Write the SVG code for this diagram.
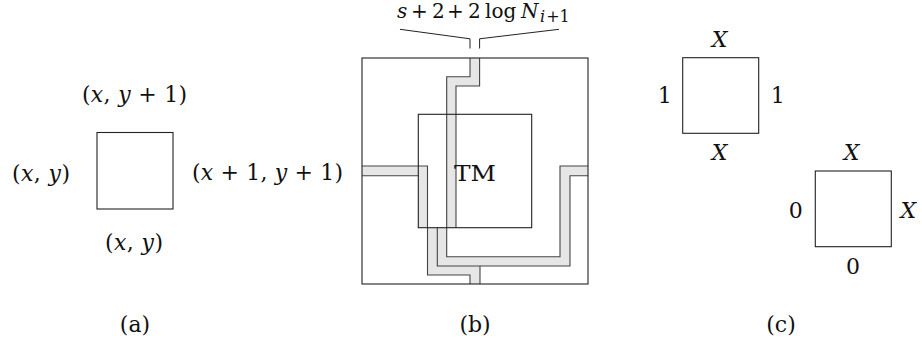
<svg xmlns="http://www.w3.org/2000/svg" width="922" height="341" viewBox="0 0 922 341">
<style>
  text { font-family: "DejaVu Serif", "Liberation Serif", serif; fill: #111; }
  .lbl { font-size: 22px; }
  .it { font-style: italic; }
  .box { fill: none; stroke: #222; stroke-width: 1.1; }
  .wire { fill: #e6e6e6; stroke: none; }
  .edge { fill: none; stroke: #444; stroke-width: 1.1; }
  .br { fill: none; stroke: #222; stroke-width: 1; }
</style>
<rect width="922" height="341" fill="#fff"/>

<!-- (a) -->
<g id="node-a">
  <rect class="box" x="97" y="132.5" width="76" height="76.5"/>
  <text class="lbl" x="82" y="102" textLength="105" lengthAdjust="spacing">(<tspan class="it">x</tspan>, <tspan class="it">y</tspan> + 1)</text>
  <text class="lbl" x="12" y="180.5" textLength="58" lengthAdjust="spacing">(<tspan class="it">x</tspan>, <tspan class="it">y</tspan>)</text>
  <text class="lbl" x="192" y="180" textLength="151" lengthAdjust="spacing">(<tspan class="it">x</tspan> + 1, <tspan class="it">y</tspan> + 1)</text>
  <text class="lbl" x="105" y="250" textLength="58" lengthAdjust="spacing">(<tspan class="it">x</tspan>, <tspan class="it">y</tspan>)</text>
</g>

<!-- (b) connectors / wires -->
<g id="connectors">
  <polygon class="wire" points="470,58 479.6,58 479.6,86 456,86 456,227.7 446.7,227.7 446.7,76.7 470,76.7"/>
  <polygon class="wire" points="588,166 560,166 560,256.7 446.7,256.7 446.7,227.7 437.3,227.7 437.3,266 570,266 570,175.7 588,175.7"/>
  <polygon class="wire" points="470,284 480,284 480,266 437.3,266 437.3,227.7 427.5,227.7 427.5,275 470,275"/>
  <polygon class="wire" points="362,166 427.5,166 427.5,227.7 418.3,227.7 418.3,175.7 362,175.7"/>
  <polyline class="edge" points="470,58 470,76.7 446.7,76.7 446.7,227.7"/>
  <polyline class="edge" points="479.6,58 479.6,86 456,86 456,227.7"/>
  <polyline class="edge" points="588,166 560,166 560,256.7 446.7,256.7 446.7,227.7"/>
  <polyline class="edge" points="588,175.7 570,175.7 570,266 437.3,266 437.3,227.7"/>
  <polyline class="edge" points="427.5,227.7 427.5,275 470,275 470,284"/>
  <polyline class="edge" points="480,266 480,284"/>
  <polyline class="edge" points="362,166 427.5,166 427.5,227.7"/>
  <polyline class="edge" points="362,175.7 418.3,175.7"/>
  <polyline class="br" points="400,29.3 470,38.8 470,48.5"/>
  <polyline class="br" points="479.6,48.5 479.6,38.8 559,29.3"/>
</g>

<g id="node-b-outer">
  <rect class="box" x="362" y="58" width="226" height="226"/>
</g>
<g id="node-tm">
  <rect class="box" x="418.3" y="114.3" width="113.4" height="113.4"/>
  <text class="lbl" x="475" y="180.7" text-anchor="middle" textLength="42" lengthAdjust="spacingAndGlyphs">TM</text>
</g>
<g id="label-b-top">
  <text font-size="20" y="18"><tspan class="it" x="397">s</tspan><tspan x="411">+</tspan><tspan x="432">2</tspan><tspan x="447">+</tspan><tspan x="468">2</tspan><tspan x="485">log</tspan><tspan class="it" x="521">N</tspan><tspan class="it" x="540" dy="4" font-size="16">i</tspan><tspan font-size="16" dx="1">+1</tspan></text>
</g>

<!-- (c) -->
<g id="node-c1">
  <rect class="box" x="682.7" y="57.7" width="76" height="75.6"/>
  <text class="lbl it" x="719.7" y="47.3" text-anchor="middle">X</text>
  <text class="lbl it" x="719.7" y="160" text-anchor="middle">X</text>
  <text class="lbl" x="664.7" y="103.3" text-anchor="middle">1</text>
  <text class="lbl" x="777.7" y="103.3" text-anchor="middle">1</text>
</g>
<g id="node-c2">
  <rect class="box" x="815.3" y="171" width="76" height="75.7"/>
  <text class="lbl it" x="851.7" y="160" text-anchor="middle">X</text>
  <text class="lbl" x="795.8" y="218.3" text-anchor="middle">0</text>
  <text class="lbl it" x="908.3" y="218.3" text-anchor="middle">X</text>
  <text class="lbl" x="853" y="274" text-anchor="middle">0</text>
</g>

<g id="captions">
  <text class="lbl" x="135" y="332" text-anchor="middle">(a)</text>
  <text class="lbl" x="475" y="332" text-anchor="middle">(b)</text>
  <text class="lbl" x="781" y="332" text-anchor="middle">(c)</text>
</g>
</svg>
